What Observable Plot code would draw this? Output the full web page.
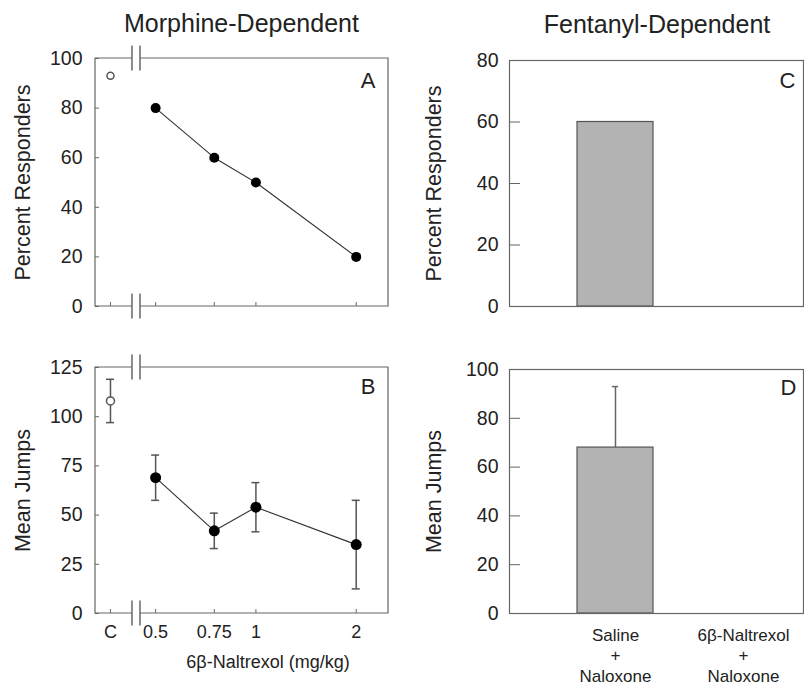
<!DOCTYPE html>
<html>
<head>
<meta charset="utf-8">
<script src="https://cdn.jsdelivr.net/npm/d3@7"></script>
<script src="https://cdn.jsdelivr.net/npm/@observablehq/plot@0.6"></script>
<style>
  body { margin: 0; background: #fff; }
  #wrap { position: relative; width: 804px; height: 688px; font-family: "Liberation Sans", Arial, Helvetica, sans-serif; color: #222; overflow: hidden; }
  .panel { position: absolute; }
  .title { position: absolute; font-size: 25px; line-height: 25px; text-align: center; white-space: nowrap; }
</style>
</head>
<body>
<div id="wrap">
  <div class="title" style="left:0px;width:483px;top:11px;">Morphine-Dependent</div>
  <div class="title" style="left:509px;width:296px;top:12px;">Fentanyl-Dependent</div>
</div>
<script>
// ---------------- data ----------------
const doses = [0.5, 0.75, 1, 2];                 // 6β-Naltrexol (mg/kg)
const responders = [80, 60, 50, 20];             // panel A, percent responders
const controlPos = 0.366;                        // where the control "C" sits on the dose axis
const controlResponders = 93;
const jumps = [69, 42, 54, 35];                  // panel B, mean jumps
const jumpsSem = [11.5, 9, 12.5, 22.5];
const controlJumps = 108;
const controlJumpsSem = 11;
const xTicks = [controlPos, 0.5, 0.75, 1, 2];
const xTickLabels = ["C", "0.5", "0.75", "1", "2"];
const yTicksA = [0, 20, 40, 60, 80, 100];
const yTicksB = [0, 25, 50, 75, 100, 125];
const yTicksC = [0, 20, 40, 60, 80];
const yTicksD = [0, 20, 40, 60, 80, 100];
const fentanylGroups = ["Saline\n+\nNaloxone", "6β-Naltrexol\n+\nNaloxone"];
const fentanylResponders = [60, 0];
const fentanylJumps = [68, 0];
const fentanylJumpsSem = [25, 0];

// ---------------- styling ----------------
const FONT = '"Liberation Sans", Arial, Helvetica, sans-serif';
const FRAME = "#666";
const TEXT = "#222";
const BREAK_AT = 0.438;   // axis break between control and doses

const morphA = doses.map((d, i) => ({dose: d, value: responders[i]}));
const morphB = doses.map((d, i) => ({dose: d, value: jumps[i], lo: jumps[i] - jumpsSem[i], hi: jumps[i] + jumpsSem[i]}));
const ctrlA = [{dose: controlPos, value: controlResponders}];
const ctrlB = [{dose: controlPos, value: controlJumps, lo: controlJumps - controlJumpsSem, hi: controlJumps + controlJumpsSem}];
const fentC = fentanylGroups.map((g, i) => ({group: g, value: fentanylResponders[i]}));
const fentD = fentanylGroups.map((g, i) => ({group: g, value: fentanylJumps[i], hi: fentanylJumps[i] + fentanylJumpsSem[i]}));

function brokenFrame(index, scales, values, dims) {
  const {width, height, marginLeft, marginRight, marginTop, marginBottom} = dims;
  const x0 = marginLeft, x1 = width - marginRight, y0 = marginTop, y1 = height - marginBottom;
  const bx = scales.x(BREAK_AT);
  const gap = 4;
  const g = d3.create("svg:g").attr("fill", "none").attr("stroke", FRAME).attr("stroke-width", 1.2);
  g.append("path").attr("d",
    `M${bx - gap},${y1}H${x0}V${y0}H${bx - gap}M${bx + gap},${y0}H${x1}V${y1}H${bx + gap}`);
  for (const y of [y0, y1]) {
    for (const dx of [-gap, gap]) {
      g.append("line").attr("x1", bx + dx).attr("x2", bx + dx).attr("y1", y - 12.5).attr("y2", y + 12.5).attr("stroke-width", 1.5);
    }
  }
  return g.node();
}

function place(svg, left, top) {
  svg.classList.add("panel");
  svg.style.left = left + "px";
  svg.style.top = top + "px";
  document.getElementById("wrap").appendChild(svg);
}

const baseStyle = {fontFamily: FONT, color: TEXT, background: "transparent", overflow: "visible"};
const yLabel = (txt, dx) => Plot.text([txt], {frameAnchor: "left", rotate: -90, dx, textAnchor: "middle", lineAnchor: "middle", fontSize: 21.5});

// ---------------- Panel A ----------------
{
  const W = 400, H = 320, mL = 95, mR = 12, mT = 58, mB = 14;
  const fw = W - mL - mR, fh = H - mT - mB;
  const p = Plot.plot({
    width: W, height: H, marginLeft: mL, marginRight: mR, marginTop: mT, marginBottom: mB,
    style: baseStyle,
    x: {type: "log", domain: [0.33, 2.5], axis: null},
    y: {domain: [0, 100], axis: null, label: null},
    marks: [
      brokenFrame,
      Plot.ruleX(xTicks, {x: d => d, insetTop: fh - 4, stroke: FRAME}),
      Plot.ruleY(yTicksA, {y: d => d, insetRight: fw - 4, stroke: FRAME}),
      Plot.axisY({ticks: yTicksA, tickSize: 0, tickPadding: 13, fontSize: 19.5, label: null}),
      Plot.line(morphA, {x: "dose", y: "value", stroke: "#333", strokeWidth: 1.1}),
      Plot.dot(morphA, {x: "dose", y: "value", fill: "#000", r: 5}),
      Plot.dot(ctrlA, {x: "dose", y: "value", fill: "#fff", stroke: "#555", r: 3.5}),
      Plot.text(["A"], {frameAnchor: "top-right", dx: -13, dy: 14, lineAnchor: "top", fontSize: 22}),
      yLabel("Percent Responders", -72)
    ]
  });
  place(p, 0, 0);
}

// ---------------- Panel B ----------------
{
  const W = 400, H = 368, mL = 95, mR = 12, mT = 47, mB = 75;
  const fw = W - mL - mR, fh = H - mT - mB;
  const p = Plot.plot({
    width: W, height: H, marginLeft: mL, marginRight: mR, marginTop: mT, marginBottom: mB,
    style: baseStyle,
    x: {type: "log", domain: [0.33, 2.5], axis: null, label: null},
    y: {domain: [0, 125], axis: null, label: null},
    marks: [
      brokenFrame,
      Plot.ruleX(xTicks, {x: d => d, insetTop: fh - 4, stroke: FRAME}),
      Plot.ruleY(yTicksB, {y: d => d, insetRight: fw - 4, stroke: FRAME}),
      Plot.axisY({ticks: yTicksB, tickSize: 0, tickPadding: 13, fontSize: 19.5, label: null}),
      Plot.axisX({ticks: xTicks, tickFormat: d => xTickLabels[xTicks.indexOf(d)], tickSize: 0, tickPadding: 12, fontSize: 18, label: null}),
      Plot.ruleX(morphB.concat(ctrlB), {x: "dose", y1: "lo", y2: "hi", stroke: "#555", strokeWidth: 1.5}),
      Plot.ruleY(morphB.concat(ctrlB), {y: "lo", x1: "dose", x2: "dose", insetLeft: -4, insetRight: -4, stroke: "#555", strokeWidth: 1.5}),
      Plot.ruleY(morphB.concat(ctrlB), {y: "hi", x1: "dose", x2: "dose", insetLeft: -4, insetRight: -4, stroke: "#555", strokeWidth: 1.5}),
      Plot.line(morphB, {x: "dose", y: "value", stroke: "#333", strokeWidth: 1.1}),
      Plot.dot(morphB, {x: "dose", y: "value", fill: "#000", r: 5.5}),
      Plot.dot(ctrlB, {x: "dose", y: "value", fill: "#fff", stroke: "#555", r: 4}),
      Plot.text(["B"], {frameAnchor: "top-right", dx: -13, dy: 11, lineAnchor: "top", fontSize: 22}),
      yLabel("Mean Jumps", -72),
      Plot.text(["6β-Naltrexol (mg/kg)"], {frameAnchor: "bottom", dx: 26, dy: 42, lineAnchor: "top", fontSize: 18})
    ]
  });
  place(p, 0, 320);
}

const bandX = {domain: fentanylGroups, paddingInner: 0.404, paddingOuter: 0.344, align: 0.756, axis: null, label: null};

// ---------------- Panel C ----------------
{
  const W = 404, H = 320, mL = 109, mR = 1, mT = 60, mB = 14;
  const fw = W - mL - mR;
  const p = Plot.plot({
    width: W, height: H, marginLeft: mL, marginRight: mR, marginTop: mT, marginBottom: mB,
    style: baseStyle,
    x: bandX,
    y: {domain: [0, 80], axis: null, label: null},
    marks: [
      Plot.barY(fentC, {x: "group", y: "value", fill: "#b3b3b3", stroke: "#555", strokeWidth: 1.2}),
      Plot.frame({stroke: FRAME, strokeWidth: 1.2}),
      Plot.ruleY(yTicksC, {y: d => d, insetRight: fw - 11, stroke: FRAME}),
      Plot.axisY({ticks: yTicksC, tickSize: 0, tickPadding: 11, fontSize: 19.5, label: null}),
      Plot.text(["C"], {frameAnchor: "top-right", dx: -8, dy: 12, lineAnchor: "top", fontSize: 22}),
      yLabel("Percent Responders", -75)
    ]
  });
  place(p, 400, 0);
}

// ---------------- Panel D ----------------
{
  const W = 404, H = 368, mL = 109, mR = 1, mT = 49, mB = 75;
  const fw = W - mL - mR, fbw = 76.7;
  const p = Plot.plot({
    width: W, height: H, marginLeft: mL, marginRight: mR, marginTop: mT, marginBottom: mB,
    style: baseStyle,
    x: bandX,
    y: {domain: [0, 100], axis: null, label: null},
    marks: [
      Plot.ruleX(fentD.filter(d => d.hi > d.value), {x: "group", y1: "value", y2: "hi", stroke: "#666", strokeWidth: 1.5}),
      Plot.tickY(fentD.filter(d => d.hi > d.value), {x: "group", y: "hi", insetLeft: fbw / 2 - 3.5, insetRight: fbw / 2 - 3.5, stroke: "#666", strokeWidth: 1.5}),
      Plot.barY(fentD, {x: "group", y: "value", fill: "#b3b3b3", stroke: "#555", strokeWidth: 1.2}),
      Plot.frame({stroke: FRAME, strokeWidth: 1.2}),
      Plot.ruleY(yTicksD, {y: d => d, insetRight: fw - 11, stroke: FRAME}),
      Plot.axisY({ticks: yTicksD, tickSize: 0, tickPadding: 11, fontSize: 19.5, label: null}),
      Plot.axisX({tickSize: 0, tickPadding: 13, fontSize: 17, lineHeight: 1.2, label: null}),
      Plot.text(["D"], {frameAnchor: "top-right", dx: -7, dy: 10, lineAnchor: "top", fontSize: 22}),
      yLabel("Mean Jumps", -75)
    ]
  });
  place(p, 400, 320);
}
</script>
</body>
</html>
